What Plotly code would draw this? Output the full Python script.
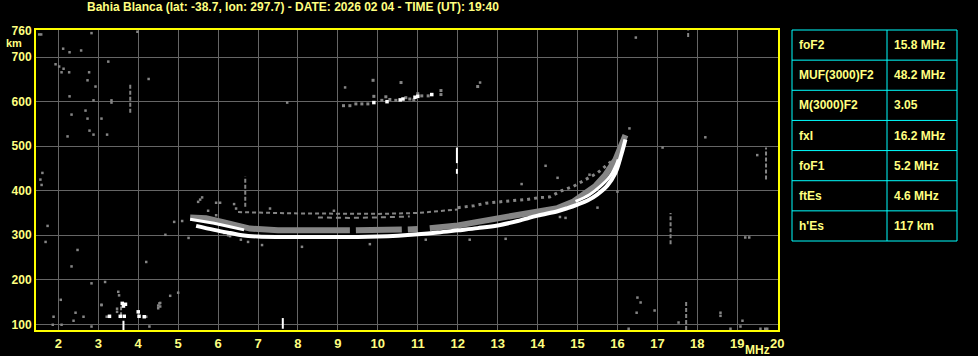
import plotly.graph_objects as go

# ---------------- data ----------------
title_text = "Bahia Blanca (lat: -38.7, lon: 297.7) - DATE: 2026 02 04 - TIME (UT): 19:40"

x_ticks = list(range(2, 21))
y_ticks = [100, 200, 300, 400, 500, 600, 700, 760]

table_names = ["foF2", "MUF(3000)F2", "M(3000)F2", "fxI", "foF1", "ftEs", "h'Es"]
table_values = ["15.8 MHz", "48.2 MHz", "3.05", "16.2 MHz", "5.2 MHz", "4.6 MHz", "117 km"]

# main (lower) F2 trace
trace_a_freq = [5.45, 5.9, 6.3, 6.6, 7.0, 7.5, 8.0, 8.5, 9.0, 9.5, 10.0, 10.5, 11.0, 11.5,
                12.0, 12.5, 13.0, 13.5, 14.0, 14.5, 14.75, 15.0, 15.25, 15.5, 15.75, 15.95, 16.1, 16.2]
trace_a_height = [321, 312, 305, 300, 297, 296, 296, 296, 296, 296, 297, 299, 302, 306,
                  311, 316, 322, 332, 344, 354, 361, 369, 378, 392, 412, 440, 482, 515]

# upper white branches
trace_b1_freq = [5.3, 5.6, 5.9, 6.3, 6.65]
trace_b1_height = [336, 332, 327, 319, 312]
trace_b2_freq = [14.95, 15.3, 15.56, 15.81, 15.97, 16.02]
trace_b2_height = [376, 391, 409, 432, 458, 470]

# grey diffuse band above the trace (None = gap)
band_freq = [5.3, 5.7, 6.1, 6.5, 6.8, 7.5, 8.5, 9.3, None, 9.45, 10.0, 10.6, None, 10.75, 11.0,
             None, 11.3, 11.5, 12.0, 12.5, 13.0, 13.5, 14.0, 14.5, 14.9, 15.2, 15.45, 15.7, 15.95, 16.2]
band_height = [340, 338, 330, 322, 315, 311, 311, 311, None, 311, 312, 313, None, 313, 314,
               None, 316, 317, 322, 330, 337, 344, 351, 361, 376, 393, 411, 436, 470, 525]

# grey dotted echo layers above the trace
dots1_freq = [6.5, 8.0, 10.0, 11.0, 12.0]
dots1_height = [352, 349, 348, 350, 358]
dots2_freq = [8.5, 9.3, 10.0, 10.8]
dots2_height = [340, 339, 340, 342]
cluster_freq = [12.0, 12.4, 12.7, 13.0, 13.4, 13.7, 14.0, 14.3, 14.6, 14.9, 15.2, 15.5, 15.7, 15.9]
cluster_height = [362, 366, 372, 375, 378, 380, 384, 386, 400, 410, 425, 440, 455, 470]

# second hop near 600 km
hop_white_freq = [9.9, 10.23, 10.56, 10.63, 10.93, 11.0, 11.35]
hop_white_height = [598, 600, 604, 606, 610, 612, 616]
hop_grey_freq = [9.14, 9.3, 9.45, 9.6, 9.75, 9.9, 10.1, 10.2, 10.3, 10.45, 10.7, 10.8, 10.9,
                 11.0, 11.1, 11.26, 11.58, 11.58, 10.58, 9.88, 12.5]
hop_grey_height = [591, 591, 595, 595, 595, 612, 603, 611, 605, 603, 609, 606, 604,
                   618, 613, 613, 616, 625, 643, 648, 634]

# vertical streaks: (freq, h_start, h_end)
streak_grey_freq = [3.8, 19.72, 17.33, 17.72, 6.68, 17.77, 3.57]
streak_grey_h0 = [575, 425, 280, 87, 364, 745, 118]
streak_grey_h1 = [640, 497, 350, 150, 432, 760, 140]
streak_white_freq = [11.98, 11.98, 7.62, 3.63]
streak_white_h0 = [438, 462, 90, 86]
streak_white_h1 = [449, 497, 114, 108]

# scattered grey echoes
noise_freq = [1.57, 2.12, 2.28, 2.57, 1.93, 2.02, 2.13, 2.08, 2.27, 2.77, 2.73, 2.93, 2.28, 2.88,
              2.33, 2.68, 2.73, 3.08, 2.78, 2.88, 3.22, 2.23, 3.33, 3.33, 3.98, 2.83, 1.58, 1.6,
              1.73, 1.68, 2.06, 1.86, 2.48, 4.26, 4.68, 4.8, 7.73, 9.18, 12.56, 14.2, 16.46,
              17.13, 16.5, 1.88, 2.08, 2.43, 2.38, 2.63, 2.83, 3.08, 3.21, 3.47, 3.47, 4.2, 4.28,
              4.5, 4.55, 2.83, 3.17, 3.5, 3.52, 3.08, 4.53, 4.5, 4.55, 5.0, 16.58, 16.48, 16.93,
              17.53, 18.58, 18.58, 19.13, 19.08, 16.28, 18.83, 19.58, 19.7, 19.75,
              5.1, 5.5, 5.6, 5.55, 5.95, 6.05, 6.4, 6.45, 6.15, 6.25, 6.3, 6.57, 6.75, 7.1, 8.1,
              5.26, 15.3, 14.5, 15.5, 16.0, 14.7, 14.56, 12.3, 13.2, 9.8, 11.2, 13.6, 19.2, 19.3,
              1.55, 19.5, 16.3, 18.2, 5.75, 5.95, 7.3, 8.9, 4.2, 4.9, 1.52, 2.33, 3.25]
noise_height = [751, 719, 711, 715, 684, 679, 674, 666, 666, 666, 648, 634, 612, 603,
                571, 580, 562, 562, 535, 526, 526, 522, 603, 598, 757, 754, 413, 440,
                321, 285, 155, 99, 267, 651, 301, 164, 598, 632, 643, 456, 744,
                497, 160, 117, 99, 126, 108, 117, 95, 144, 117, 135, 128, 117, 95,
                142, 148, 192, 195, 173, 165, 143, 147, 136, 140, 171, 149, 126, 131,
                104, 126, 119, 108, 95, 90, 90, 90, 90, 90,
                332, 375, 385, 380, 373, 373, 370, 360, 305, 300, 298, 290, 285, 278, 274,
                294, 436, 429, 362, 398, 339, 341, 290, 292, 280, 290, 415, 295, 295,
                425, 480, 540, 520, 355, 345, 360, 355, 240, 330, 751, 230, 690]

# white echoes (sporadic E and specks)
white_freq = [3.28, 3.55, 3.65, 3.6, 3.68, 4.02, 4.15, 3.63, 4.0]
white_height = [118, 118, 118, 147, 145, 118, 117, 141, 128]

# ---------------- styling ----------------
BG = "#000000"
GRID = "#666666"
GREY = "#858585"
LABEL = "#ffff80"
FONT = "Liberation Sans, Arial, sans-serif"

W, H = 978, 356
L, R, T, B = 36, 200, 30, 26
PW, PH = W - L - R, H - T - B


def px(x):
    return (x - L) / PW


def py(y):
    return (H - B - y) / PH


fig = go.Figure()

# grey band
fig.add_trace(go.Scatter(x=band_freq, y=band_height, mode="lines", connectgaps=False,
                         line=dict(color=GREY, width=6), hoverinfo="skip"))
fig.add_trace(go.Scatter(x=cluster_freq, y=cluster_height, mode="lines",
                         line=dict(color=GREY, width=3, dash="3px,4px"), hoverinfo="skip"))
fig.add_trace(go.Scatter(x=dots1_freq, y=dots1_height, mode="lines",
                         line=dict(color=GREY, width=2, dash="4px,3px"), hoverinfo="skip"))
fig.add_trace(go.Scatter(x=dots2_freq, y=dots2_height, mode="lines",
                         line=dict(color=GREY, width=2, dash="5px,4px"), hoverinfo="skip"))

# streaks
for f, h0, h1 in zip(streak_grey_freq, streak_grey_h0, streak_grey_h1):
    fig.add_trace(go.Scatter(x=[f, f], y=[h0, h1], mode="lines",
                             line=dict(color=GREY, width=2, dash="4px,2px"), hoverinfo="skip"))
for f, h0, h1 in zip(streak_white_freq, streak_white_h0, streak_white_h1):
    fig.add_trace(go.Scatter(x=[f, f], y=[h0, h1], mode="lines",
                             line=dict(color="#ffffff", width=2), hoverinfo="skip"))

# noise
fig.add_trace(go.Scatter(x=noise_freq, y=noise_height, mode="markers",
                         marker=dict(symbol="square", size=2.5, color=GREY, line=dict(width=0)),
                         hoverinfo="skip"))
fig.add_trace(go.Scatter(x=hop_grey_freq, y=hop_grey_height, mode="markers",
                         marker=dict(symbol="square", size=3, color=GREY, line=dict(width=0)),
                         hoverinfo="skip"))
fig.add_trace(go.Scatter(x=hop_white_freq, y=hop_white_height, mode="markers",
                         marker=dict(symbol="square", size=3.5, color="#ffffff", line=dict(width=0)),
                         hoverinfo="skip"))
fig.add_trace(go.Scatter(x=white_freq, y=white_height, mode="markers",
                         marker=dict(symbol="square", size=3.5, color="#ffffff", line=dict(width=0)),
                         hoverinfo="skip"))

# main white traces
fig.add_trace(go.Scatter(x=trace_a_freq, y=trace_a_height, mode="lines",
                         line=dict(color="#ffffff", width=4, shape="spline"), hoverinfo="skip"))
fig.add_trace(go.Scatter(x=trace_b1_freq, y=trace_b1_height, mode="lines",
                         line=dict(color="#ffffff", width=3), hoverinfo="skip"))
fig.add_trace(go.Scatter(x=trace_b2_freq, y=trace_b2_height, mode="lines",
                         line=dict(color="#ffffff", width=3, shape="spline"), hoverinfo="skip"))

shapes = []
# parameter table
tx0, tx1, tcol = 792, 957, 887
ty0, ty1 = 30, 241
rh = (ty1 - ty0) / len(table_names)
shapes.append(dict(type="rect", xref="paper", yref="paper", x0=px(tx0), x1=px(tx1),
                   y0=py(ty1), y1=py(ty0), line=dict(color="#00ffff", width=1)))
shapes.append(dict(type="line", xref="paper", yref="paper", x0=px(tcol), x1=px(tcol),
                   y0=py(ty1), y1=py(ty0), line=dict(color="#00ffff", width=1)))
annotations = []
for i, (n, v) in enumerate(zip(table_names, table_values)):
    if i > 0:
        yy = ty0 + i * rh
        shapes.append(dict(type="line", xref="paper", yref="paper", x0=px(tx0), x1=px(tx1),
                           y0=py(yy), y1=py(yy), line=dict(color="#00ffff", width=1)))
    yc = ty0 + (i + 0.5) * rh
    annotations.append(dict(text=n, x=px(tx0 + 5), y=py(yc), xref="paper", yref="paper",
                            xanchor="left", yanchor="middle", showarrow=False,
                            font=dict(family=FONT, size=12, color=LABEL, weight="bold")))
    annotations.append(dict(text=v, x=px(tcol + 5), y=py(yc), xref="paper", yref="paper",
                            xanchor="left", yanchor="middle", showarrow=False,
                            font=dict(family=FONT, size=12, color=LABEL, weight="bold")))

annotations.append(dict(text=title_text, x=px(85), y=py(7), xref="paper", yref="paper",
                        xanchor="left", yanchor="middle", showarrow=False,
                        font=dict(family=FONT, size=12, color=LABEL, weight="bold")))
annotations.append(dict(text="km", x=px(14), y=py(43), xref="paper", yref="paper",
                        xanchor="center", yanchor="middle", showarrow=False,
                        font=dict(family=FONT, size=11, color=LABEL, weight="bold")))
annotations.append(dict(text="MHz", x=px(757), y=py(350), xref="paper", yref="paper",
                        xanchor="center", yanchor="middle", showarrow=False,
                        font=dict(family=FONT, size=12, color=LABEL, weight="bold")))

fig.update_layout(
    width=W, height=H,
    margin=dict(l=L, r=R, t=T, b=B, autoexpand=False),
    paper_bgcolor=BG, plot_bgcolor=BG,
    showlegend=False,
    shapes=shapes,
    annotations=annotations,
    xaxis=dict(range=[1.44, 20.02], tickvals=x_ticks, ticktext=[str(t) for t in x_ticks],
               showgrid=True, gridcolor=GRID, gridwidth=1, zeroline=False,
               showline=True, linecolor="#ffff00", linewidth=2, mirror=True, ticks="",
               automargin=False,
               tickfont=dict(family=FONT, size=13, color=LABEL, weight="bold")),
    yaxis=dict(range=[87.2, 761], tickvals=y_ticks, ticktext=[str(t) for t in y_ticks],
               showgrid=True, gridcolor=GRID, gridwidth=1, zeroline=False,
               showline=True, linecolor="#ffff00", linewidth=2, mirror=True, ticks="",
               automargin=False,
               tickfont=dict(family=FONT, size=12, color=LABEL, weight="bold")),
)

fig.write_html("out.html")
